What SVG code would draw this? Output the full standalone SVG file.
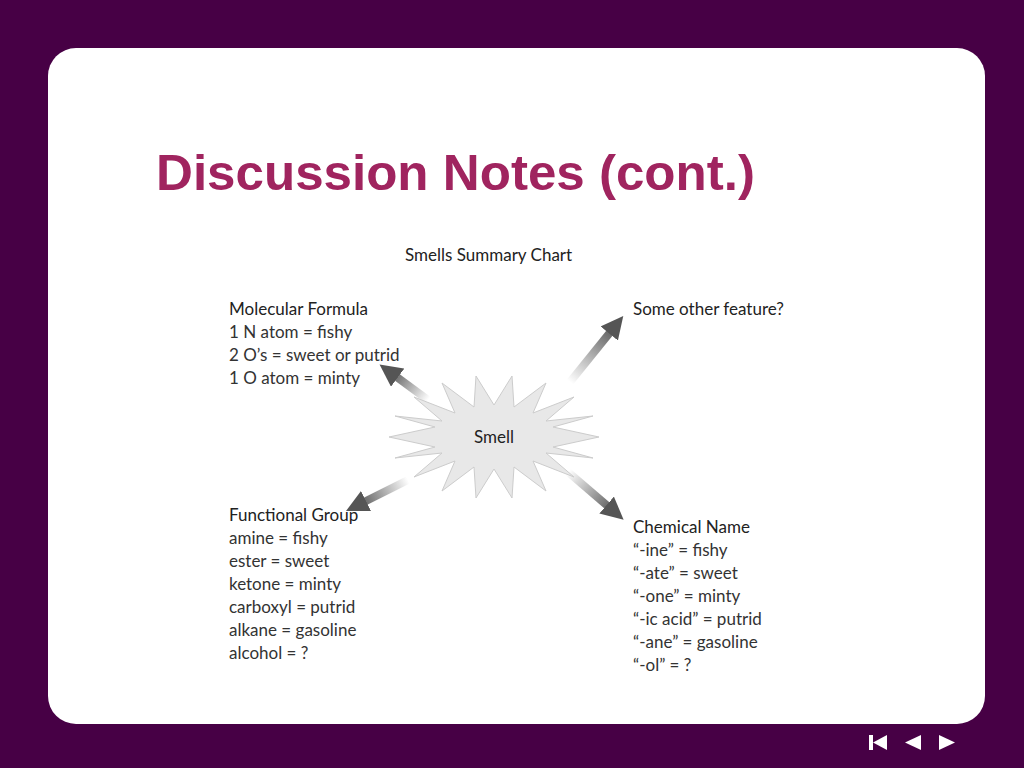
<svg xmlns="http://www.w3.org/2000/svg" width="1024" height="768" viewBox="0 0 1024 768">
<style>
.t{font-family:Lato,"Open Sans",sans-serif;font-size:17px;fill:#333}
.h{font-family:Lato,"Open Sans",sans-serif;font-size:17px;fill:#222}
</style>
<defs>
<marker id="ah" viewBox="0 0 10 10" refX="2" refY="5" markerWidth="2.8" markerHeight="2.8" orient="auto" markerUnits="strokeWidth"><path d="M0,0L10,5L0,10z" fill="#555"/></marker>
<linearGradient id="g1" gradientUnits="userSpaceOnUse" x1="570" y1="382" x2="615" y2="326"><stop offset="0" stop-color="#fff"/><stop offset="1" stop-color="#555"/></linearGradient>
<linearGradient id="g2" gradientUnits="userSpaceOnUse" x1="428" y1="400" x2="390" y2="372"><stop offset="0" stop-color="#fff"/><stop offset="1" stop-color="#555"/></linearGradient>
<linearGradient id="g3" gradientUnits="userSpaceOnUse" x1="408" y1="480" x2="358" y2="505"><stop offset="0" stop-color="#fff"/><stop offset="1" stop-color="#555"/></linearGradient>
<linearGradient id="g4" gradientUnits="userSpaceOnUse" x1="568" y1="472" x2="614" y2="511"><stop offset="0" stop-color="#fff"/><stop offset="1" stop-color="#555"/></linearGradient>
</defs>
<rect width="1024" height="768" fill="#470045"/>
<rect x="48" y="48" width="937" height="676" rx="28" fill="#fff"/>
<text x="156" y="190" font-family="Liberation Sans,Arial,sans-serif" font-weight="bold" font-size="50" fill="#a0245f" textLength="599" lengthAdjust="spacingAndGlyphs">Discussion Notes (cont.)</text>
<text x="405" y="261" class="h">Smells Summary Chart</text>
<g id="connectors" stroke-width="8" fill="none" marker-end="url(#ah)">
<line x1="570" y1="382" x2="612" y2="330" stroke="url(#g1)"/>
<line x1="428" y1="400" x2="394" y2="375" stroke="url(#g2)"/>
<line x1="408" y1="480" x2="362" y2="503" stroke="url(#g3)"/>
<line x1="568" y1="472" x2="610" y2="508" stroke="url(#g4)"/>
</g>
<g id="smell">
<polygon fill="#e8e8e8" stroke="#ccc" stroke-width="1" points="599,437 553,447 593,458 546,453 574,477 533,461 546,491 514,467 512,498 494,469 476,498 474,467 442,491 455,461 414,477 442,453 395,458 435,447 389,437 435,427 395,416 442,421 414,397 455,413 442,383 474,407 476,376 494,405 512,376 514,407 546,383 533,413 574,397 546,421 593,416 553,427"/>
<text x="494" y="443" text-anchor="middle" class="h">Smell</text>
</g>
<g id="molecular">
<text x="229" y="315" class="h">Molecular Formula</text>
<text x="229" y="338" class="t">1 N atom = fishy</text>
<text x="229" y="361" class="t">2 O’s = sweet or putrid</text>
<text x="229" y="384" class="t">1 O atom = minty</text>
</g>
<g id="other"><text x="633" y="315" class="h">Some other feature?</text></g>
<g id="functional">
<text x="229" y="521" class="h">Functional Group</text>
<text x="229" y="544" class="t">amine = fishy</text>
<text x="229" y="567" class="t">ester = sweet</text>
<text x="229" y="590" class="t">ketone = minty</text>
<text x="229" y="613" class="t">carboxyl = putrid</text>
<text x="229" y="636" class="t">alkane = gasoline</text>
<text x="229" y="659" class="t">alcohol = ?</text>
</g>
<g id="chemical">
<text x="633" y="533" class="h">Chemical Name</text>
<text x="633" y="556" class="t">“-ine” = fishy</text>
<text x="633" y="579" class="t">“-ate” = sweet</text>
<text x="633" y="602" class="t">“-one” = minty</text>
<text x="633" y="625" class="t">“-ic acid” = putrid</text>
<text x="633" y="648" class="t">“-ane” = gasoline</text>
<text x="633" y="671" class="t">“-ol” = ?</text>
</g>
<g id="nav" fill="#fff">
<rect x="869" y="735" width="4" height="15"/>
<polygon points="873,742.5 887,735 887,750"/>
<polygon points="905,742.5 921,735 921,750"/>
<polygon points="955,742.5 939,735 939,750"/>
</g>
</svg>
